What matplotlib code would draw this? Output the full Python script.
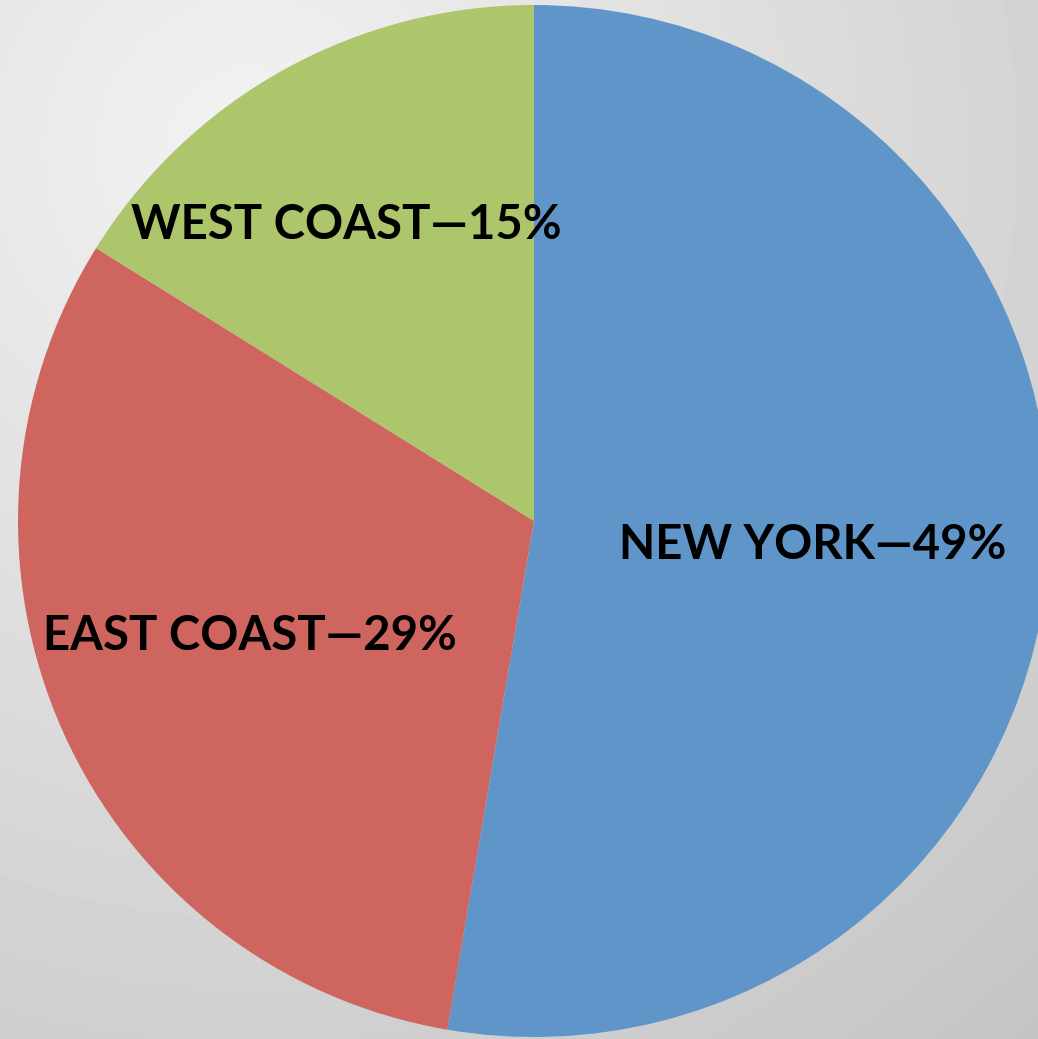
import numpy as np
import matplotlib.pyplot as plt

regions = ["NEW YORK", "EAST COAST", "WEST COAST"]
shares = [49, 29, 15]
colors = ["#5f95c9", "#cf655f", "#adc56b"]

W, H = 1038, 1039
fig = plt.figure(figsize=(W / 100, H / 100), dpi=100)

# soft grey backdrop, lighter toward the upper left
bg = fig.add_axes([0, 0, 1, 1])
yy, xx = np.mgrid[0:H, 0:W]
d = np.hypot(xx - 250, yy - 150) / 1300.0
shade = 0.95 - 0.20 * np.clip(d, 0, 1)
bg.imshow(shade, cmap="gray", vmin=0, vmax=1, extent=(0, W, H, 0), aspect="auto")
bg.axis("off")

ax = fig.add_axes([0, 0, 1, 1])
cx, cy, r = 534, H - 521, 516
ax.pie(shares, colors=colors, startangle=90, counterclock=False,
       center=(cx, cy), radius=r, wedgeprops=dict(linewidth=0))
ax.set_xlim(0, W)
ax.set_ylim(0, H)
ax.set_aspect("equal")
ax.axis("off")

label_pos = [(813, 545), (250, 636), (346, 225)]
for name, val, (px, py) in zip(regions, shares, label_pos):
    ax.text(px, H - py, f"{name}\u2014{val}%", ha="center", va="center",
            fontsize=34, fontweight="bold", family=["Lato", "DejaVu Sans"],
            color="black")

fig.savefig("out.png", dpi=100)
